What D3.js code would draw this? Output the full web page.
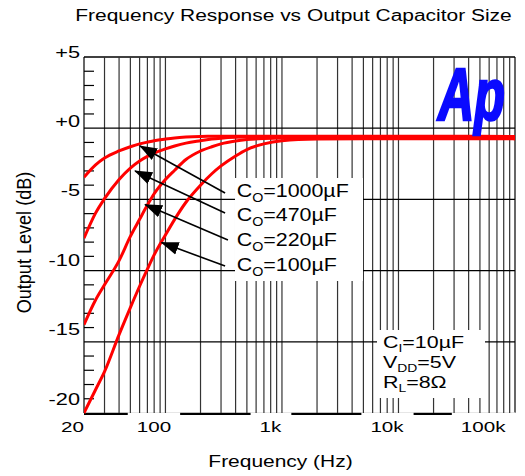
<!DOCTYPE html>
<html>
<head>
<meta charset="utf-8">
<script src="https://cdn.jsdelivr.net/npm/d3@7"></script>
<style>
  body { margin: 0; background: #fff; }
  text { font-family: "Liberation Sans", Arial, sans-serif; fill: #000; }
</style>
</head>
<body>
<div id="chart"></div>
<script>
// ---- data ----
var freqHz = [20, 25, 30, 40, 50, 60, 70, 80, 100, 120, 150, 200, 250, 300, 400, 500, 700, 1000, 2000, 5000, 10000, 20000, 50000, 100000];
var dB_1000uF = [-4.45, -3.6, -3.1, -2.6, -2.3, -2.1, -1.98, -1.88, -1.76, -1.68, -1.62, -1.58, -1.57, -1.56, -1.56, -1.56, -1.56, -1.56, -1.56, -1.56, -1.56, -1.56, -1.56, -1.58];
var dB_470uF = [-8.73, -7.0, -5.95, -4.6, -3.8, -3.3, -2.98, -2.75, -2.45, -2.25, -2.05, -1.88, -1.76, -1.7, -1.64, -1.62, -1.6, -1.6, -1.6, -1.6, -1.6, -1.6, -1.6, -1.62];
var dB_220uF = [-14.8, -13.1, -12.0, -10.3, -8.6, -7.4, -6.4, -5.6, -4.6, -3.95, -3.2, -2.6, -2.3, -2.1, -1.9, -1.8, -1.72, -1.68, -1.67, -1.67, -1.67, -1.67, -1.67, -1.68];
var dB_100uF = [-21.0, -19.4, -18.1, -15.5, -13.6, -12.1, -10.9, -9.9, -8.5, -7.4, -6.2, -5.0, -4.2, -3.65, -2.95, -2.5, -2.1, -1.88, -1.76, -1.74, -1.74, -1.74, -1.74, -1.75];
var capLabels = ["1000", "470", "220", "100"];

var xTickHz = [20, 100, 1000, 10000, 100000];
var xTickText = ["20", "100", "1k", "10k", "100k"];
var yTickDb = [5, 0, -5, -10, -15, -20];
var yTickText = ["+5", "+0", "-5", "-10", "-15", "-20"];
var gridDb = [-1, -6, -11, -16];

// arrows: tip on the curve, tail by the label
var arrowTipHz = [60.5, 54.8, 66.8, 92.6];
var arrowTipDb = [-2.25, -4.0, -6.36, -9.03];
var arrowTailHz = [325, 325, 344, 325];
var arrowTailDb = [-5.55, -6.96, -8.85, -10.68];

var W = 525, H = 476;
var plot = {left: 84, right: 515, top: 57, bottom: 413};
var SX = 1.31; // picture is stretched sideways

var svg = d3.select("#chart").append("svg")
    .attr("width", W).attr("height", H);

svg.append("rect").attr("width", W).attr("height", H).attr("fill", "#fff");

var x = d3.scaleLog().domain([20, 100000]).range([plot.left, plot.right]);
var y = d3.scaleLinear().domain([-21, 4]).range([plot.bottom, plot.top]);
// tick labels in the source sit slightly off the grid
var yLab = d3.scaleLinear().domain([-20, 5]).range([399, 52]);

function addText(parent, px, py, size, sx, anchor) {
    return parent.append("text")
        .attr("transform", "translate(" + px + "," + py + ") scale(" + sx + ",1)")
        .attr("font-size", size)
        .attr("text-anchor", anchor || "start");
}

// ---- title ----
addText(svg, 293.5, 20.7, 16, SX, "middle").text("Frequency Response vs Output Capacitor Size");

// ---- frame ----
svg.append("line").attr("x1", plot.left).attr("x2", plot.right)
    .attr("y1", plot.top).attr("y2", plot.top).attr("stroke", "#000").attr("stroke-width", 1.3);
svg.append("line").attr("x1", plot.left).attr("x2", plot.left)
    .attr("y1", plot.top).attr("y2", plot.bottom).attr("stroke", "#000").attr("stroke-width", 1.2);
svg.append("line").attr("x1", plot.right).attr("x2", plot.right)
    .attr("y1", plot.top).attr("y2", plot.bottom).attr("stroke", "#000").attr("stroke-width", 1.2);
svg.append("line").attr("x1", plot.left).attr("x2", plot.right)
    .attr("y1", plot.bottom + 0.8).attr("y2", plot.bottom + 0.8).attr("stroke", "#000").attr("stroke-width", 2.2);

// ---- x axis labels ----
var xAxis = svg.append("g")
    .attr("transform", "translate(0," + plot.bottom + ")")
    .call(d3.axisBottom(x).tickValues(xTickHz).tickSize(0).tickPadding(8)
        .tickFormat(function(d, i) { return xTickText[i]; }));
xAxis.select(".domain").remove();
xAxis.selectAll("text")
    .attr("font-size", 15.5)
    .attr("font-family", "Liberation Sans, Arial, sans-serif")
    .attr("fill", "#000")
    .attr("transform", "scale(1.33,1)")
    .attr("x", function(d, i) { return (i == xTickHz.length - 1 ? -10 : -12) / 1.33; })
    .attr("text-anchor", function(d, i) { return i == xTickHz.length - 1 ? "end" : "middle"; });

// white gaps the labels cut into the thick bottom line
xAxis.selectAll("text").each(function(d, i) {
    if (i == 0) return;
    var b = this.getBoundingClientRect();
    svg.append("rect")
        .attr("x", b.left - 9).attr("width", b.width + 18)
        .attr("y", plot.bottom - 0.6).attr("height", 4)
        .attr("fill", "#fff");
});

// ---- grid ----
var grid = svg.append("g");
grid.selectAll("line.v")
    .data(x.ticks().filter(function(d) { return d > 20 && d < 100000; }))
    .enter().append("line")
    .attr("class", "v")
    .attr("x1", function(d) { return x(d); }).attr("x2", function(d) { return x(d); })
    .attr("y1", plot.top).attr("y2", plot.bottom)
    .attr("stroke", "#333").attr("stroke-width", 1.2);
grid.selectAll("line.h")
    .data(gridDb)
    .enter().append("line")
    .attr("class", "h")
    .attr("x1", plot.left).attr("x2", plot.right)
    .attr("y1", function(d) { return y(d); }).attr("y2", function(d) { return y(d); })
    .attr("stroke", "#000").attr("stroke-width", 1.2);
// small ticks every dB on the left
grid.selectAll("line.t")
    .data(d3.range(-20, 4).filter(function(d) { return gridDb.indexOf(d) < 0; }))
    .enter().append("line")
    .attr("class", "t")
    .attr("x1", plot.left).attr("x2", plot.left + 10)
    .attr("y1", function(d) { return y(d); }).attr("y2", function(d) { return y(d); })
    .attr("stroke", "#000").attr("stroke-width", 1.2);

// ---- y axis labels ----
var yAxis = svg.append("g")
    .attr("transform", "translate(80,0)")
    .call(d3.axisLeft(yLab).tickValues(yTickDb).tickSize(0).tickPadding(0)
        .tickFormat(function(d, i) { return yTickText[i]; }));
yAxis.select(".domain").remove();
yAxis.selectAll("text")
    .attr("font-size", 16)
    .attr("font-family", "Liberation Sans, Arial, sans-serif")
    .attr("fill", "#000")
    .attr("x", 0)
    .attr("transform", "scale(1.36,1)");

// ---- axis titles ----
addText(svg, 280.5, 466.7, 16, SX, "middle").text("Frequency (Hz)");
svg.append("text")
    .attr("transform", "translate(31,242.5) rotate(-90) scale(1.13,1.3)")
    .attr("font-size", 16)
    .attr("text-anchor", "middle")
    .text("Output Level (dB)");

// ---- curves ----
var series = [dB_1000uF, dB_470uF, dB_220uF, dB_100uF];
svg.append("clipPath").attr("id", "clip")
    .append("rect").attr("x", plot.left).attr("y", plot.top)
    .attr("width", plot.right - plot.left).attr("height", plot.bottom - plot.top + 1);

var line = d3.line()
    .x(function(d) { return x(d[0]); })
    .y(function(d) { return y(d[1]); })
    .curve(d3.curveMonotoneX);

svg.append("g").attr("clip-path", "url(#clip)")
    .selectAll("path")
    .data(series)
    .enter().append("path")
    .attr("d", function(s) { return line(freqHz.map(function(f, i) { return [f, s[i]]; })); })
    .attr("fill", "none")
    .attr("stroke", "#ff0000")
    .attr("stroke-width", 3)
    .attr("stroke-linejoin", "round");

// ---- label boxes ----
svg.append("rect").attr("x", 235).attr("y", 178).attr("width", 128).attr("height", 103).attr("fill", "#fff");
svg.append("rect").attr("x", 377).attr("y", 330).attr("width", 108).attr("height", 68).attr("fill", "#fff");

// ---- arrows ----
svg.append("defs").append("marker")
    .attr("id", "head")
    .attr("markerUnits", "userSpaceOnUse")
    .attr("viewBox", "0 -7 18 14")
    .attr("refX", 17).attr("refY", 0)
    .attr("markerWidth", 18).attr("markerHeight", 14)
    .attr("orient", "auto")
    .append("path").attr("d", "M0,-6.5L18,0L0,6.5Z").attr("fill", "#000");

svg.append("g").selectAll("line")
    .data(arrowTipHz)
    .enter().append("line")
    .attr("x1", function(d, i) { return x(arrowTailHz[i]); })
    .attr("y1", function(d, i) { return y(arrowTailDb[i]); })
    .attr("x2", function(d) { return x(d); })
    .attr("y2", function(d, i) { return y(arrowTipDb[i]); })
    .attr("stroke", "#000").attr("stroke-width", 1.6)
    .attr("marker-end", "url(#head)");

// ---- capacitor labels ----
var legY = [197, 221, 246, 271];
capLabels.forEach(function(c, i) {
    var t = addText(svg, 236.7, legY[i], 18, 1.19);
    t.append("tspan").text("C");
    t.append("tspan").attr("font-size", 12).attr("dy", 5).text("O");
    t.append("tspan").attr("dy", -5).text("=" + c + "\u00b5F");
});

// ---- conditions ----
var cond = [["C", "I", "=10\u00b5F"], ["V", "DD", "=5V"], ["R", "L", "=8\u03a9"]];
var condY = [347.5, 367.5, 387.5];
cond.forEach(function(c, i) {
    var t = addText(svg, 383, condY[i], 17, 1.26);
    t.append("tspan").text(c[0]);
    t.append("tspan").attr("font-size", 11).attr("dy", 4).text(c[1]);
    t.append("tspan").attr("dy", -4).text(c[2]);
});

// ---- Ap logo ----
svg.append("text")
    .attr("transform", "translate(438,120) scale(0.68,1)")
    .attr("font-size", 74)
    .attr("font-family", "DejaVu Sans, sans-serif")
    .attr("font-weight", "bold")
    .attr("font-style", "italic")
    .style("fill", "#0a0aff")
    .style("stroke", "#0a0aff")
    .style("stroke-width", 2.5)
    .text("Ap");
</script>
</body>
</html>
